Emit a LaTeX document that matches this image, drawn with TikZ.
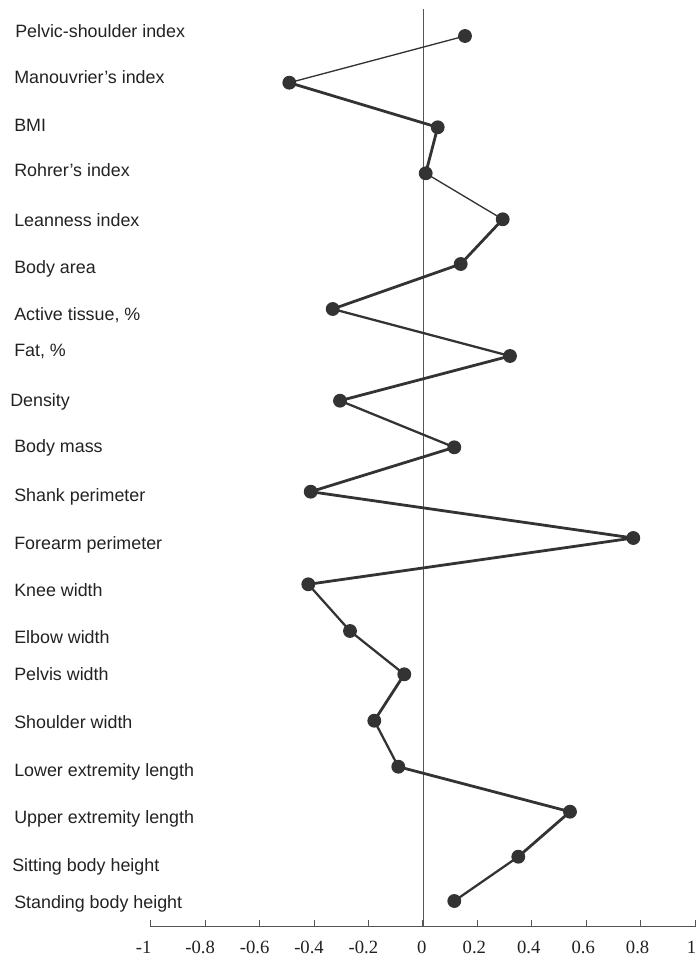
\documentclass[tikz,border=0pt]{standalone}
\usepackage{fontspec}
\setmainfont{Liberation Sans}
\newfontfamily\tickfont{Liberation Serif}
\definecolor{dotc}{HTML}{333333}
\definecolor{labc}{HTML}{222222}
\definecolor{axc}{HTML}{555555}
\begin{document}
\begin{tikzpicture}[x=0.75pt,y=-0.75pt,
  dot/.style={circle,fill=dotc,inner sep=0pt,minimum size=10.4pt},
  lab/.style={anchor=base west,inner sep=0pt,text=labc,font=\fontsize{13.4}{16}\selectfont},
  ticklab/.style={anchor=base,inner sep=0pt,text=labc,font=\tickfont\fontsize{14}{16}\selectfont},
  segthin/.style={draw=dotc,line width=1pt},
  segmid/.style={draw=dotc,line width=1.7pt},
  segthick/.style={draw=dotc,line width=2.1pt},
  axis/.style={draw=axc,line width=0.8pt}]
\useasboundingbox (0,0) rectangle (698,961);
% axes
\coordinate (vtop) at (423.3,9.3);
\coordinate (vbot) at (423.3,926.7);
\coordinate (hl) at (150.7,926.7);
\coordinate (hr) at (695.1,926.7);
\draw[axis] (vtop) -- (vbot);
\draw[axis] (hl) -- (hr);
\foreach \v/\t/\dx [count=\i] in {-1/-1/-7,-0.8/-0.8/-5,-0.6/-0.6/-5,-0.4/-0.4/-5,-0.2/-0.2/-5,0/0/-1,0.2/0.2/-3,0.4/0.4/-3,0.6/0.6/-3,0.8/0.8/-3,1/1/-3.5}{
  \coordinate (tk\i) at ({422.9+272.15*\v},926.7);
  \coordinate (tt\i) at ({422.9+272.15*\v},919.7);
  \draw[axis] (tk\i) -- (tt\i);
  \node[ticklab] (tl\i) at ({422.9+272.15*\v+\dx},953) {\t};
}
% labels
\node[lab] (l1) at (15,37.3) {Pelvic-shoulder index};
\node[lab] (l2) at (14,83.3) {Manouvrier's index};
\node[lab] (l3) at (14,131.7) {BMI};
\node[lab] (l4) at (14,176.7) {Rohrer's index};
\node[lab] (l5) at (14,226) {Leanness index};
\node[lab] (l6) at (14,273.3) {Body area};
\node[lab] (l7) at (14,320.7) {Active tissue, \%};
\node[lab] (l8) at (14,356) {Fat, \%};
\node[lab] (l9) at (10,406.7) {Density};
\node[lab] (l10) at (14,452.7) {Body mass};
\node[lab] (l11) at (14,501.7) {Shank perimeter};
\node[lab] (l12) at (14,549) {Forearm perimeter};
\node[lab] (l13) at (14,596.7) {Knee width};
\node[lab] (l14) at (14,643.3) {Elbow width};
\node[lab] (l15) at (14,680.7) {Pelvis width};
\node[lab] (l16) at (14,728.3) {Shoulder width};
\node[lab] (l17) at (14,776.7) {Lower extremity length};
\node[lab] (l18) at (14,823.3) {Upper extremity length};
\node[lab] (l19) at (12,871.7) {Sitting body height};
\node[lab] (l20) at (14,908.3) {Standing body height};
% points
\coordinate (c1) at (465,36);
\coordinate (c2) at (289.3,82.7);
\coordinate (c3) at (437.7,127.3);
\coordinate (c4) at (425.7,173.3);
\coordinate (c5) at (502.7,219.3);
\coordinate (c6) at (460.7,264);
\coordinate (c7) at (332.7,309);
\coordinate (c8) at (510,356);
\coordinate (c9) at (340,400.7);
\coordinate (c10) at (454.3,447.3);
\coordinate (c11) at (310.7,491.7);
\coordinate (c12) at (633.3,538);
\coordinate (c13) at (308.3,584.3);
\coordinate (c14) at (350,631);
\coordinate (c15) at (404.3,674.3);
\coordinate (c16) at (374.3,720.7);
\coordinate (c17) at (398.3,766.7);
\coordinate (c18) at (570,811.7);
\coordinate (c19) at (518.3,856.7);
\coordinate (c20) at (454.3,901);
\draw[segthin] (c1) -- (c2);
\draw[segthick] (c2) -- (c3);
\draw[segthick] (c3) -- (c4);
\draw[segthin] (c4) -- (c5);
\draw[segthick] (c5) -- (c6);
\draw[segthick] (c6) -- (c7);
\draw[segmid] (c7) -- (c8);
\draw[segthick] (c8) -- (c9);
\draw[segmid] (c9) -- (c10);
\draw[segthick] (c10) -- (c11);
\draw[segthick] (c11) -- (c12);
\draw[segthick] (c12) -- (c13);
\draw[segmid] (c13) -- (c14);
\draw[segmid] (c14) -- (c15);
\draw[segthick] (c15) -- (c16);
\draw[segmid] (c16) -- (c17);
\draw[segthick] (c17) -- (c18);
\draw[segthick] (c18) -- (c19);
\draw[segmid] (c19) -- (c20);
\foreach \i in {1,...,20}{\node[dot] (p\i) at (c\i) {};}
\end{tikzpicture}
\end{document}
